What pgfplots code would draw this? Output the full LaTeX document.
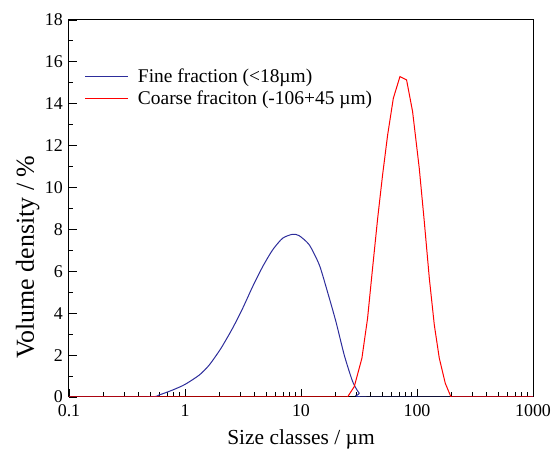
\documentclass[border=0pt]{standalone}
\usepackage{fontspec}
\setmainfont{Liberation Serif}
\usepackage{pgfplots}
\pgfplotsset{compat=1.18}
\definecolor{finec}{RGB}{45,45,155}
\definecolor{coarsec}{RGB}{255,0,0}
\begin{document}
\begin{tikzpicture}
\begin{axis}[
  scale only axis,
  width=464bp, height=377bp,
  xmode=log, xmin=0.1, xmax=1000,
  ymin=0, ymax=18,
  xtick={0.1,1,10,100,1000},
  xticklabels={0.1,1,10,100,1000},
  ytick={0,2,...,18},
  minor y tick num=1,
  tick pos=left,
  tick align=inside,
  major tick length=8bp,
  minor tick length=4.5bp,
  axis line style={line width=1bp},
  every tick/.style={black, line width=0.9bp},
  /pgf/number format/assume math mode=true,
  ticklabel style={font=\fontsize{18}{21}\selectfont},
  xticklabel style={yshift=-6bp, inner sep=1bp},
  yticklabel style={xshift=-5bp, inner sep=1bp},
  xlabel={Size classes / µm},
  ylabel={Volume density / \%},
  xlabel style={font=\fontsize{21.5}{24}\selectfont, yshift=-9bp},
  ylabel style={font=\fontsize{26}{28}\selectfont, at={(ticklabel cs:0.371)}, yshift=1bp},
  legend style={at={(axis description cs:0.034,0.875)}, anchor=north west, draw=none, fill=none,
    font=\fontsize{19.5}{21}\selectfont, row sep=2bp, inner sep=0bp},
  legend cell align=left,
  legend image code/.code={\draw[#1] (0bp,0bp) -- (43bp,0bp); \path (50bp,0bp);},
]
\coordinate (bl) at (rel axis cs:0,0);
\coordinate (tr) at (rel axis cs:1,1);
\addplot[finec, line width=1bp, smooth, tension=0.4] coordinates {
(0.1,0) (0.49,0) (0.60,0.10) (0.78,0.33) (1.0,0.60) (1.33,1.05) (1.62,1.53) (2.04,2.32)
(2.57,3.28) (3.14,4.23) (3.83,5.27) (4.67,6.22) (5.69,7.02) (6.94,7.58) (8.47,7.77)
(9.66,7.70) (11.8,7.26) (14.4,6.30) (16.9,5.03) (20.0,3.60) (23.6,2.0) (27.9,0.73)
(31.8,0.18) (36.3,0) (1000,0)
};
\addlegendentry{Fine fraction (<18µm)}
\addplot[coarsec, line width=1bp] coordinates {
(0.1,0) (25.2,0) (28.8,0.5) (33.5,1.85) (37.5,3.76) (41.4,6.15) (45.8,8.53) (50.5,10.6)
(55.8,12.5) (62.5,14.26) (71.3,15.3) (81.3,15.14) (91.6,13.63) (104.6,10.92) (115.6,8.37)
(127.7,5.67) (141,3.44) (155.7,1.85) (175.4,0.65) (196.4,0) (1000,0)
};
\addlegendentry{Coarse fraciton (-106+45 µm)}
\end{axis}
\pgfresetboundingbox
\path[use as bounding box] ([shift={(-69bp,-52bp)}]bl) rectangle ([shift={(20bp,20bp)}]tr);
\end{tikzpicture}
\end{document}
